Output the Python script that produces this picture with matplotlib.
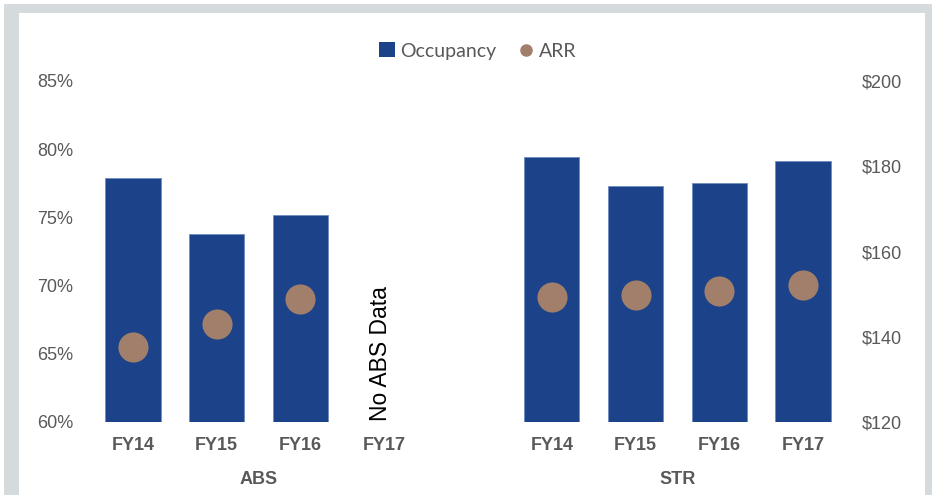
import matplotlib
matplotlib.use("Agg")
import matplotlib.pyplot as plt
from matplotlib.patches import Rectangle, Patch
from matplotlib.lines import Line2D
from matplotlib.transforms import blended_transform_factory

# data
abs_years = ["FY14", "FY15", "FY16", "FY17"]
str_years = ["FY14", "FY15", "FY16", "FY17"]
abs_occ = [77.9, 73.8, 75.2]          # %; no FY17 data
str_occ = [79.4, 77.3, 77.5, 79.1]    # %
abs_arr = [137.6, 143.0, 148.9]       # $
str_arr = [149.3, 149.8, 150.7, 152.1]

bar_col = "#1c4389"
dot_col = "#a27f6a"
txt_col = "#595959"
frame_col = "#d5dadd"

W, H = 932, 495
fig = plt.figure(figsize=(W / 100, H / 100), dpi=100)

# gray frame around the panel
fig.patches.append(Rectangle((4 / W, 0), (W - 4) / W, 491 / H, transform=fig.transFigure,
                             facecolor=frame_col, edgecolor="none", zorder=-2))
fig.patches.append(Rectangle((19 / W, 0), (925 - 19) / W, 482 / H, transform=fig.transFigure,
                             facecolor="white", edgecolor="none", zorder=-1))

ax = fig.add_axes([91 / W, (H - 422) / H, (845 - 91) / W, (422 - 81) / H])
ax.patch.set_alpha(0)

abs_x = list(range(len(abs_years)))
str_x = [len(abs_years) + 1 + i for i in range(len(str_years))]

ax.bar(abs_x[:len(abs_occ)], abs_occ, width=0.66, color=bar_col,
       edgecolor="#6f8cc0", linewidth=0.6)
ax.bar(str_x, str_occ, width=0.66, color=bar_col, edgecolor="#6f8cc0", linewidth=0.6)
ax.set_ylim(60, 85)
ax.set_xlim(-0.5, str_x[-1] + 0.5)
ax.set_yticks(range(60, 86, 5))
ax.set_yticklabels([f"{v}%" for v in range(60, 86, 5)])
ax.set_xticks(abs_x + str_x)
ax.set_xticklabels(abs_years + str_years)

ax2 = ax.twinx()
ax2.scatter(abs_x[:len(abs_arr)], abs_arr, s=470, color=dot_col, zorder=3, linewidths=0)
ax2.scatter(str_x, str_arr, s=470, color=dot_col, zorder=3, linewidths=0)
ax2.set_ylim(120, 200)
ax2.set_yticks(range(120, 201, 20))
ax2.set_yticklabels([f"${v}" for v in range(120, 201, 20)])

for a in (ax, ax2):
    for s in a.spines.values():
        s.set_visible(False)
    a.tick_params(length=0, colors=txt_col)

ax.tick_params(axis="y", pad=13, labelsize=13)
ax2.tick_params(axis="y", pad=12, labelsize=13)
ax.tick_params(axis="x", pad=11, labelsize=13)
for t in ax.get_xticklabels():
    t.set_fontweight("bold")
for t in ax.get_yticklabels() + ax2.get_yticklabels() + ax.get_xticklabels():
    t.set_fontfamily("Liberation Sans")

# group labels
tr = blended_transform_factory(ax.transData, fig.transFigure)
ax.text((abs_x[0] + abs_x[-1]) / 2, 1 - 479 / H, "ABS", transform=tr, ha="center", va="center",
        fontsize=13, fontweight="bold", color=txt_col, family="Liberation Sans")
ax.text((str_x[0] + str_x[-1]) / 2, 1 - 479 / H, "STR", transform=tr, ha="center", va="center",
        fontsize=13, fontweight="bold", color=txt_col, family="Liberation Sans")

ax.text(abs_x[3] - 0.05, 60.1, "No ABS Data", rotation=90, ha="center", va="bottom",
        fontsize=16.5, color="black", family="Liberation Sans")

handles = [Patch(facecolor=bar_col, edgecolor="none", label="Occupancy"),
           Line2D([], [], marker="o", linestyle="none", markersize=8, color=dot_col, label="ARR")]
leg = fig.legend(handles=handles, loc="center", bbox_to_anchor=(478 / W, 1 - 51 / H), ncol=2,
                 frameon=False, handlelength=0.8, handleheight=0.8, handletextpad=0.3,
                 columnspacing=1.1, prop={"family": "Lato", "size": 14})
for t in leg.get_texts():
    t.set_color(txt_col)

fig.savefig("out.png", dpi=100)
